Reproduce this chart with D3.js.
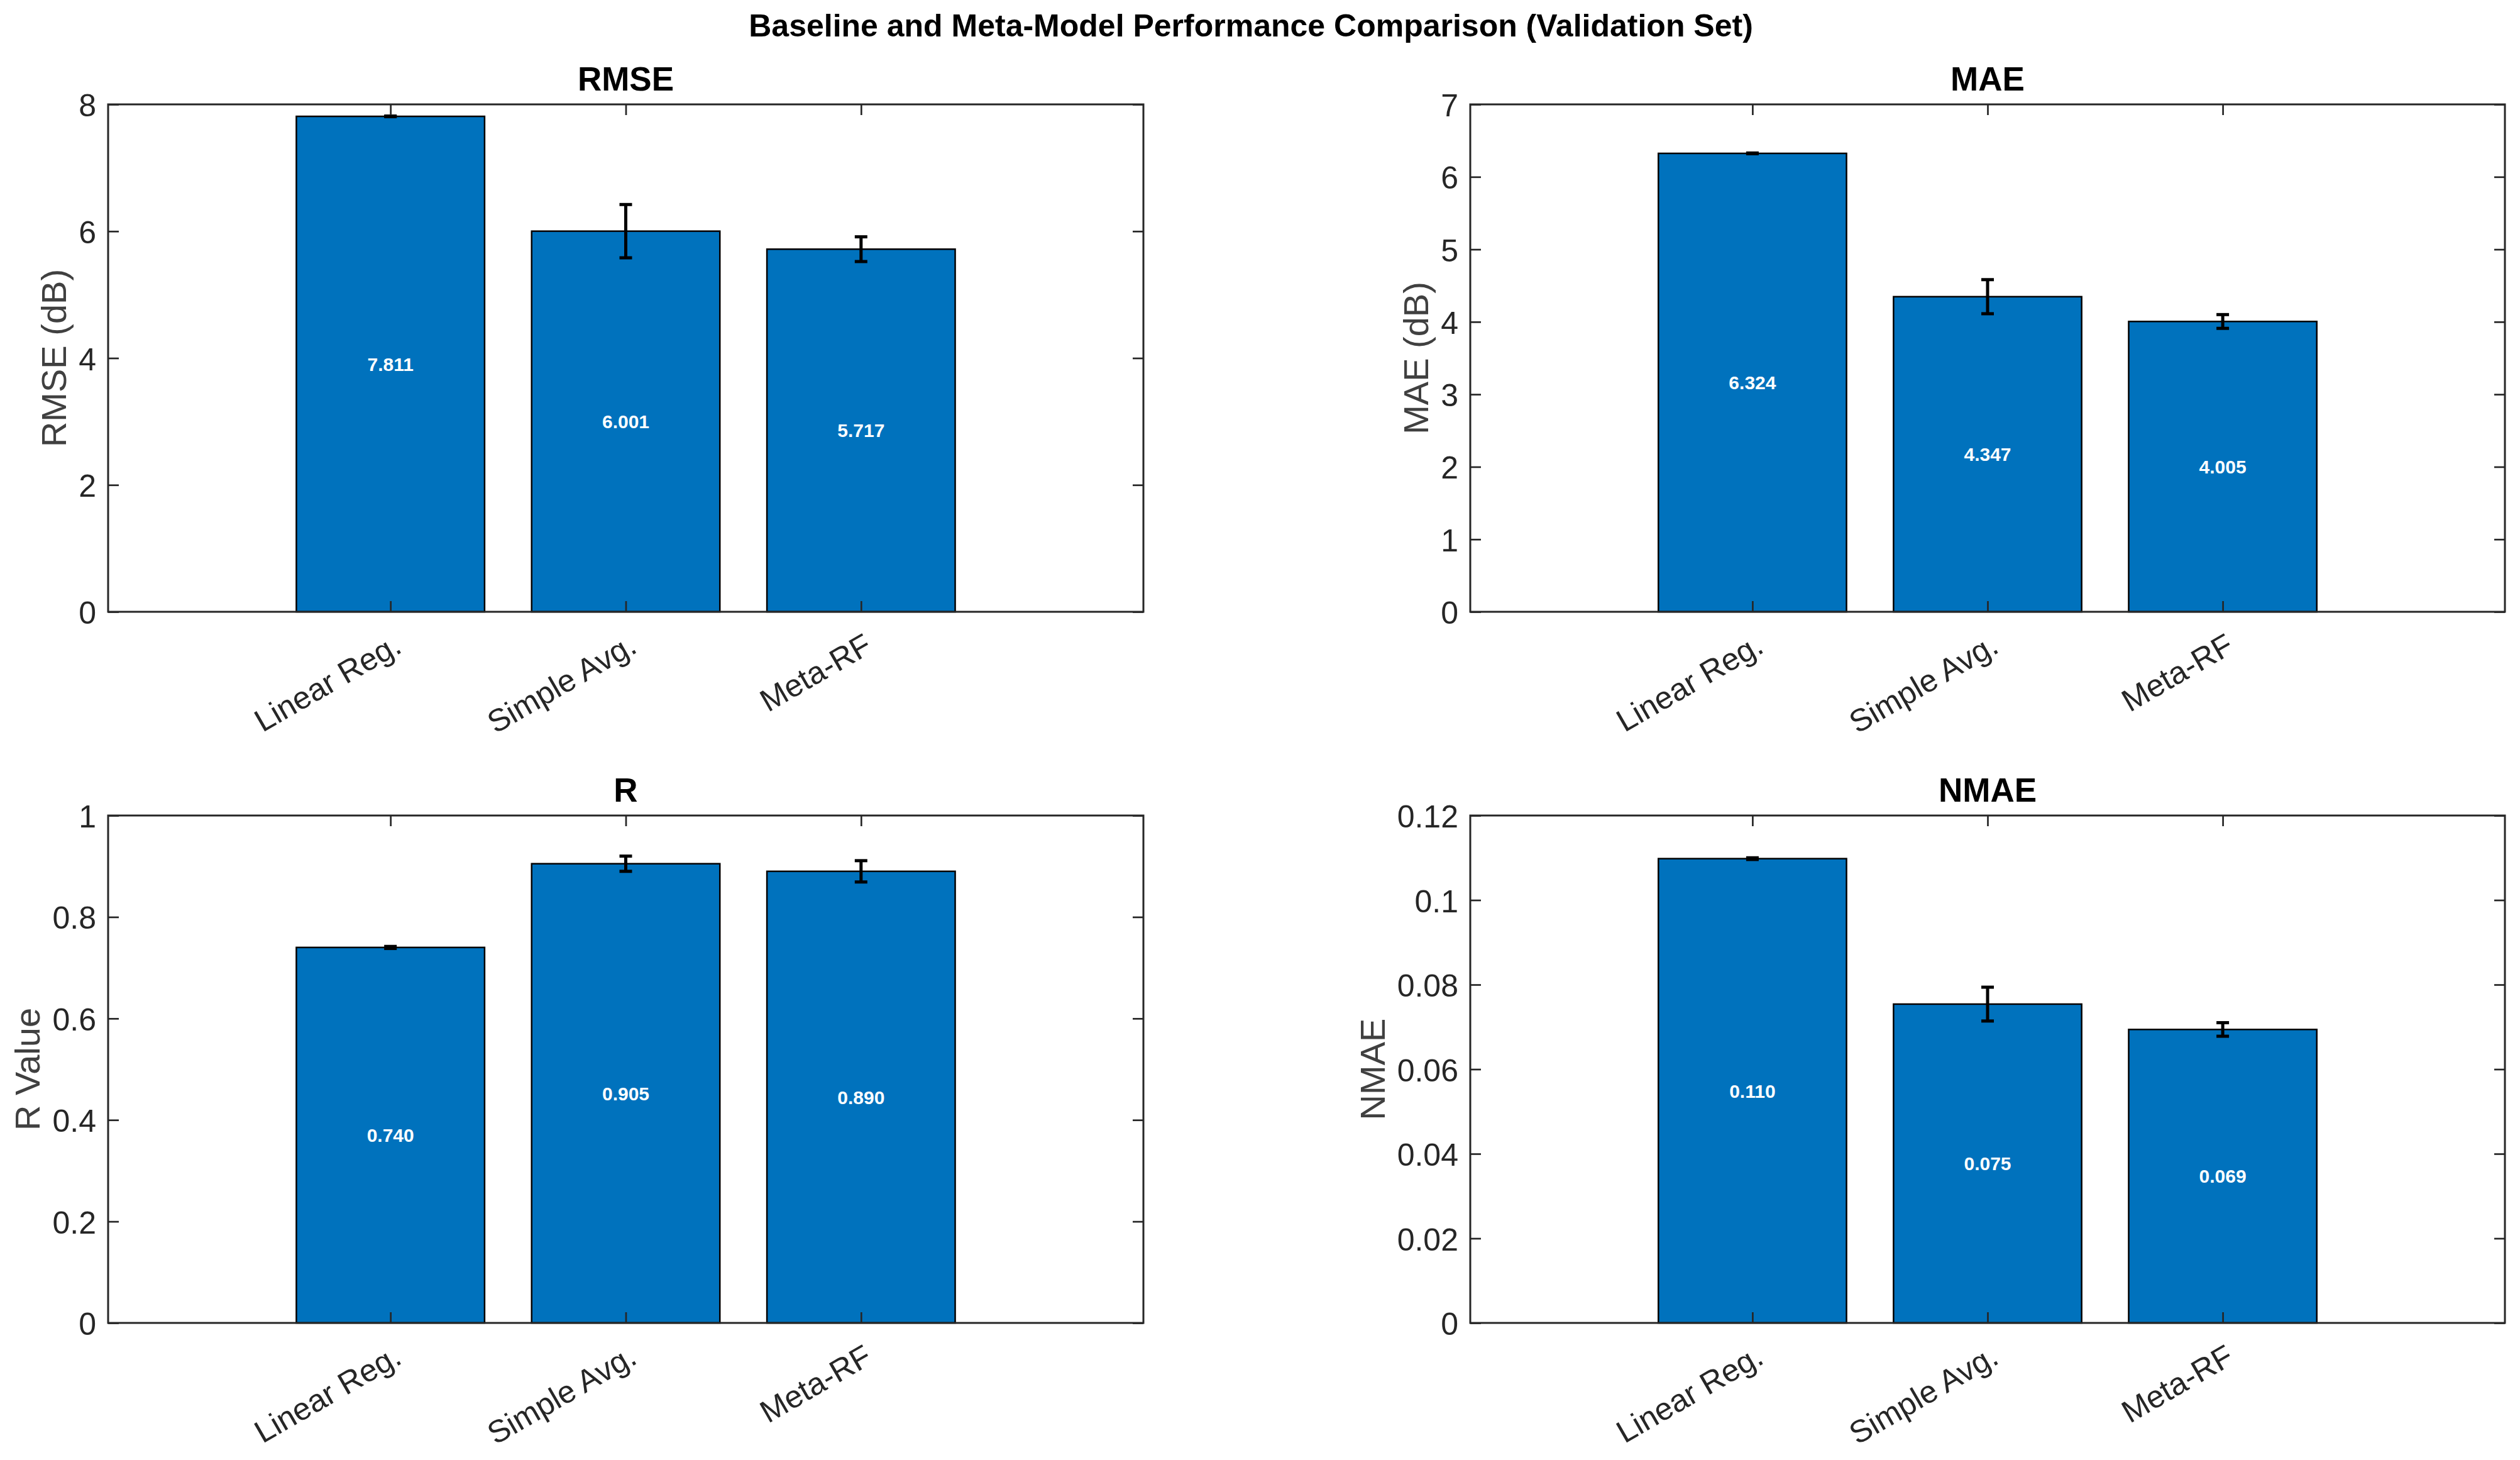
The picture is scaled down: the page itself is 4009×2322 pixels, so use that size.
<!DOCTYPE html>
<html>
<head>
<meta charset="utf-8">
<script src="https://cdn.jsdelivr.net/npm/d3@7"></script>
<style>
  body { margin: 0; background: #fff; }
  text { font-family: "Liberation Sans", Arial, Helvetica, sans-serif; }
</style>
</head>
<body>
<div id="vis"></div>
<script>
var w = 4009;
var h = 2322;

// data
var models = ["Linear Reg.", "Simple Avg.", "Meta-RF"];

var rmseVals = [7.811, 6.001, 5.717];
var rmseErr  = [0.005, 0.42, 0.195];
var maeVals  = [6.324, 4.347, 4.005];
var maeErr   = [0.005, 0.235, 0.095];
var rVals    = [0.740, 0.905, 0.890];
var rErr     = [0.002, 0.015, 0.021];
var nmaeVals = [0.1098, 0.0754, 0.0694];
var nmaeErr  = [0.0002, 0.004, 0.0016];

var rmseTicks = [0, 2, 4, 6, 8];
var maeTicks  = [0, 1, 2, 3, 4, 5, 6, 7];
var rTicks    = [0, 0.2, 0.4, 0.6, 0.8, 1];
var nmaeTicks = [0, 0.02, 0.04, 0.06, 0.08, 0.1, 0.12];

var panelTitles = ["RMSE", "MAE", "R", "NMAE"];
var panelYLabels = ["RMSE (dB)", "MAE (dB)", "R Value", "NMAE"];

var mainTitle = "Baseline and Meta-Model Performance Comparison (Validation Set)";

// layout of the four axes boxes
var colX = [[172, 1819], [2339, 3985]];
var rowY = [[166, 973], [1297, 2104]];

var barColor = "#0072BD";
var axColor = "#262626";
var tickLen = 17;

var panels = [
  {vals: rmseVals, err: rmseErr, ticks: rmseTicks, col: 0, row: 0},
  {vals: maeVals,  err: maeErr,  ticks: maeTicks,  col: 1, row: 0},
  {vals: rVals,    err: rErr,    ticks: rTicks,    col: 0, row: 1},
  {vals: nmaeVals, err: nmaeErr, ticks: nmaeTicks, col: 1, row: 1}
];

var svg = d3.select("#vis")
  .append("svg")
  .attr("width", w)
  .attr("height", h);

svg.append("rect").attr("width", w).attr("height", h).attr("fill", "#fff");

svg.append("text")
  .text(mainTitle)
  .attr("x", 1990)
  .attr("y", 58)
  .attr("text-anchor", "middle")
  .attr("font-weight", "bold")
  .attr("font-size", "50px")
  .attr("fill", "#000");

function fmtTick(v) { return String(+v.toFixed(3)); }

panels.forEach(function(p, i) {
  var x0 = colX[p.col][0], x1 = colX[p.col][1];
  var y0 = rowY[p.row][0], y1 = rowY[p.row][1];

  var x = d3.scaleLinear().domain([-0.2, 4.2]).range([x0, x1]);
  var y = d3.scaleLinear().domain([p.ticks[0], p.ticks[p.ticks.length - 1]]).range([y1, y0]);

  var g = svg.append("g");

  // bars
  g.selectAll("rect.bar")
    .data(p.vals)
    .enter()
    .append("rect")
    .attr("class", "bar")
    .attr("x", function(d, j) { return x(j + 1 - 0.4); })
    .attr("width", x(1.4) - x(0.6))
    .attr("y", function(d) { return y(d); })
    .attr("height", function(d) { return y(0) - y(d); })
    .attr("fill", barColor)
    .attr("stroke", "#000")
    .attr("stroke-width", 2.5);

  // value labels, halfway up each bar
  g.selectAll("text.val")
    .data(p.vals)
    .enter()
    .append("text")
    .attr("class", "val")
    .text(function(d) { return d.toFixed(3); })
    .attr("x", function(d, j) { return x(j + 1); })
    .attr("y", function(d) { return y(d / 2); })
    .attr("dy", "0.36em")
    .attr("text-anchor", "middle")
    .attr("font-weight", "bold")
    .attr("font-size", "30px")
    .attr("fill", "#fff");

  // error bars
  var eb = g.selectAll("g.err")
    .data(p.vals)
    .enter()
    .append("g")
    .attr("class", "err")
    .attr("stroke", "#000")
    .attr("stroke-width", 5);
  eb.append("line")
    .attr("x1", function(d, j) { return x(j + 1); })
    .attr("x2", function(d, j) { return x(j + 1); })
    .attr("y1", function(d, j) { return y(d - p.err[j]); })
    .attr("y2", function(d, j) { return y(d + p.err[j]); });
  eb.append("line")
    .attr("x1", function(d, j) { return x(j + 1) - 10; })
    .attr("x2", function(d, j) { return x(j + 1) + 10; })
    .attr("y1", function(d, j) { return y(d + p.err[j]); })
    .attr("y2", function(d, j) { return y(d + p.err[j]); });
  eb.append("line")
    .attr("x1", function(d, j) { return x(j + 1) - 10; })
    .attr("x2", function(d, j) { return x(j + 1) + 10; })
    .attr("y1", function(d, j) { return y(d - p.err[j]); })
    .attr("y2", function(d, j) { return y(d - p.err[j]); });

  // axes, ticks pointing inward on all sides
  var catTicks = [1, 2, 3];

  var left = g.append("g")
    .attr("transform", "translate(" + x0 + ",0)")
    .call(d3.axisLeft(y).tickValues(p.ticks).tickFormat(fmtTick)
      .tickSize(-tickLen).tickSizeOuter(0).tickPadding(19));
  var right = g.append("g")
    .attr("transform", "translate(" + x1 + ",0)")
    .call(d3.axisRight(y).tickValues(p.ticks).tickFormat("")
      .tickSize(-tickLen).tickSizeOuter(0));
  var top = g.append("g")
    .attr("transform", "translate(0," + y0 + ")")
    .call(d3.axisTop(x).tickValues(catTicks).tickFormat("")
      .tickSize(-tickLen).tickSizeOuter(0));
  var bottom = g.append("g")
    .attr("transform", "translate(0," + y1 + ")")
    .call(d3.axisBottom(x).tickValues(catTicks).tickFormat(function(d) { return models[d - 1]; })
      .tickSize(-tickLen).tickSizeOuter(0));

  [left, right, top, bottom].forEach(function(a) {
    a.select(".domain").remove();
    a.selectAll(".tick line").attr("stroke", axColor).attr("stroke-width", 2.7);
    a.selectAll("text").attr("fill", axColor).attr("font-size", "50px")
      .attr("font-family", "'Liberation Sans', Arial, Helvetica, sans-serif");
  });

  left.selectAll("text").attr("dy", "0.37em");

  bottom.selectAll("text")
    .attr("y", 0)
    .attr("dy", 0)
    .attr("text-anchor", "end")
    .attr("transform", "translate(20,63) rotate(-30)");

  // box
  g.append("rect")
    .attr("x", x0)
    .attr("y", y0)
    .attr("width", x1 - x0)
    .attr("height", y1 - y0)
    .attr("fill", "none")
    .attr("stroke", axColor)
    .attr("stroke-width", 3);

  // subplot title
  g.append("text")
    .text(panelTitles[i])
    .attr("x", (x0 + x1) / 2)
    .attr("y", y0 - 22)
    .attr("text-anchor", "middle")
    .attr("font-weight", "bold")
    .attr("font-size", "53px")
    .attr("fill", "#000");

  // y label, placed left of the widest tick label
  var maxW = 0;
  left.selectAll("text").each(function() {
    maxW = Math.max(maxW, this.getComputedTextLength());
  });
  var labX = x0 - 19 - maxW - 20;
  g.append("text")
    .text(panelYLabels[i])
    .attr("transform", "translate(" + labX + "," + ((y0 + y1) / 2) + ") rotate(-90)")
    .attr("text-anchor", "middle")
    .attr("font-size", "56px")
    .attr("fill", "#404040");
});
</script>
</body>
</html>
